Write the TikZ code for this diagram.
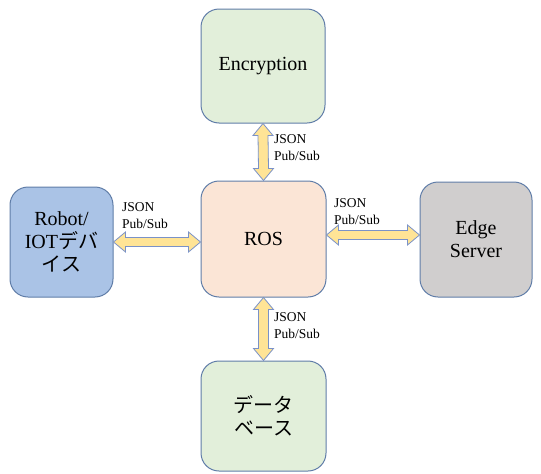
\documentclass[tikz,border=0pt]{standalone}
\usepackage{fontspec}
\setmainfont{Liberation Serif}
\newfontfamily\cjk{Noto Sans CJK JP}
\usetikzlibrary{calc}
\definecolor{bordercol}{RGB}{96,125,168}
\definecolor{greenfill}{RGB}{226,239,218}
\definecolor{rosfill}{RGB}{251,229,214}
\definecolor{robotfill}{RGB}{170,195,230}
\definecolor{edgefill}{RGB}{208,206,206}
\definecolor{arrfill}{RGB}{255,228,150}
\definecolor{arrborder}{RGB}{122,146,200}
\newcommand\myharrow[2]{%
\draw[arrowshape] (#1) -- ($(#1)+(12,-10)$) -- ($(#1)+(12,-4.5)$) -- ($(#2)+(-12,-4.5)$) -- ($(#2)+(-12,-10)$) -- (#2) -- ($(#2)+(-12,10)$) -- ($(#2)+(-12,4.5)$) -- ($(#1)+(12,4.5)$) -- ($(#1)+(12,10)$) -- cycle;}
\newcommand\myvarrow[2]{%
\draw[arrowshape] (#1) -- ($(#1)+(10,12)$) -- ($(#1)+(5,12)$) -- ($(#2)+(5,-12)$) -- ($(#2)+(10,-12)$) -- (#2) -- ($(#2)+(-10,-12)$) -- ($(#2)+(-5,-12)$) -- ($(#1)+(-5,12)$) -- ($(#1)+(-10,12)$) -- cycle;}
\begin{document}
\begin{tikzpicture}[x=1pt,y=-1pt,
  box/.style={draw=bordercol, line width=1pt, rounded corners=18pt, align=center, inner sep=0pt,
    font=\fontsize{20}{23}\selectfont},
  arrowshape/.style={draw=arrborder, fill=arrfill, line width=0.8pt, line join=miter},
  lbl/.style={anchor=west, align=left, inner sep=0pt, font=\fontsize{13.5}{17}\selectfont}]
\useasboundingbox (0,0) rectangle (541,474);
\node[box, fill=greenfill, minimum width=124pt, minimum height=114pt] (enc) at (263,66) {Encryption};
\node[box, fill=rosfill, minimum width=125pt, minimum height=116pt] (ros) at (263.5,239) {ROS};
\node[box, fill=robotfill, minimum width=103pt, minimum height=110pt] (robot) at (61.5,242) {Robot/\\IOT{\cjk デバ}\\{\cjk イス}};
\node[box, fill=edgefill, minimum width=112pt, minimum height=115pt] (edge) at (476,239.5) {Edge\\Server};
\node[box, fill=greenfill, minimum width=125pt, minimum height=110pt] (db) at (263.5,416) {{\cjk データ}\\{\cjk ベース}};
\coordinate (l2) at (ros.west |- robot.east);
\coordinate (r0) at ($(ros.east)+(0,-4)$);
\coordinate (r1) at (edge.west |- r0);
\myvarrow{enc.south}{ros.north}
\myvarrow{ros.south}{db.north}
\myharrow{robot.east}{l2}
\myharrow{r0}{r1}
\node[lbl] (t1) at (274,148) {JSON\\Pub/Sub};
\node[lbl] (t2) at (122,216) {JSON\\Pub/Sub};
\node[lbl] (t3) at (334,212) {JSON\\Pub/Sub};
\node[lbl] (t4) at (274,326) {JSON\\Pub/Sub};
\end{tikzpicture}
\end{document}
